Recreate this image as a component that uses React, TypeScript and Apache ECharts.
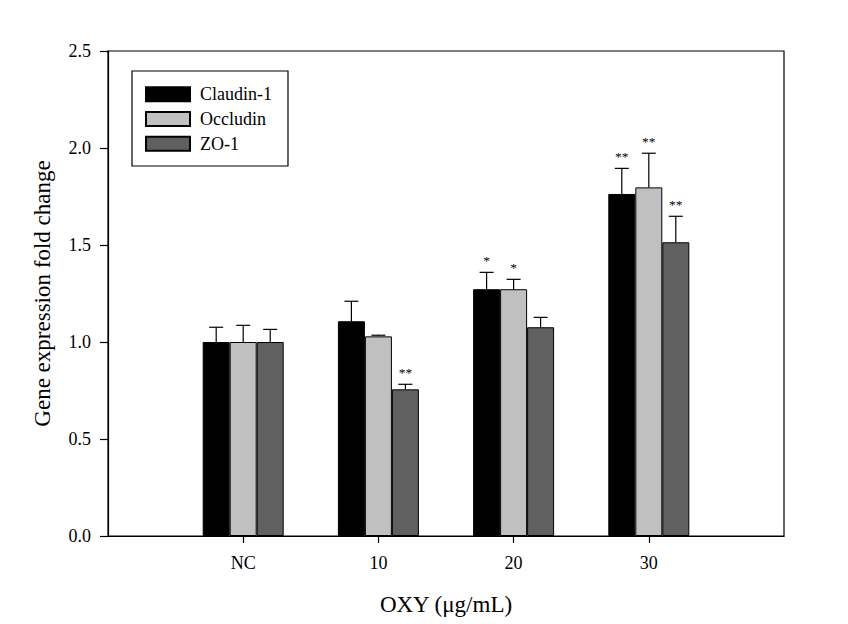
import React, { useEffect, useRef } from "react";
import * as echarts from "echarts";

const categories = ["", "NC", "10", "20", "30", ""];
const seriesNames = ["Claudin-1", "Occludin", "ZO-1"];
const seriesColors = ["#000000", "#c0c0c0", "#606060"];
// values at category indexes 1..4 (NC, 10, 20, 30)
const claudin = [1.0, 1.107, 1.272, 1.763];
const occludin = [1.0, 1.029, 1.272, 1.797];
const zo1 = [1.0, 0.756, 1.076, 1.514];
const claudinErr = [0.076, 0.103, 0.087, 0.132];
const occludinErr = [0.086, 0.006, 0.051, 0.176];
const zo1Err = [0.065, 0.026, 0.051, 0.134];
const claudinSig = ["", "", "*", "**"];
const occludinSig = ["", "", "*", "**"];
const zo1Sig = ["", "**", "", "**"];
const yTicks = [0, 0.5, 1.0, 1.5, 2.0, 2.5];

const FONT = "Liberation Serif";
const BAR_W = 27;

export default function App() {
  const ref = useRef<HTMLDivElement>(null);
  useEffect(() => {
    if (!ref.current) return;
    const chart = echarts.init(ref.current, undefined, { renderer: "svg" });
    const vals = [claudin, occludin, zo1];
    const errs = [claudinErr, occludinErr, zo1Err];
    const sigs = [claudinSig, occludinSig, zo1Sig];

    const barSeries = seriesNames.map((name, s) => ({
      name,
      type: "bar",
      barWidth: BAR_W,
      barGap: "0%",
      itemStyle: { color: seriesColors[s], borderColor: "#000", borderWidth: 1 },
      data: vals[s].map((v, i) => [i + 1, v]),
      z: 2,
    }));

    const errData: any[] = [];
    for (let s = 0; s < 3; s++) {
      vals[s].forEach((v, i) => {
        errData.push([i + 1, v, errs[s][i], s - 1, sigs[s][i]]);
      });
    }

    const errSeries = {
      type: "custom",
      name: "err",
      z: 5,
      data: errData,
      renderItem: (params: any, api: any) => {
        const x = api.value(0);
        const top = api.value(1);
        const err = api.value(2);
        const off = api.value(3);
        const sig = errData[params.dataIndex][4];
        const p = api.coord([x, top]);
        const q = api.coord([x, top + err]);
        const cx = p[0] + off * BAR_W;
        const children: any[] = [
          {
            type: "line",
            shape: { x1: cx, y1: p[1], x2: cx, y2: q[1] },
            style: { stroke: "#000", lineWidth: 1.2 },
          },
          {
            type: "line",
            shape: { x1: cx - 7, y1: q[1], x2: cx + 7, y2: q[1] },
            style: { stroke: "#000", lineWidth: 1.2 },
          },
        ];
        if (sig) {
          children.push({
            type: "text",
            style: {
              text: sig,
              x: cx,
              y: q[1] - 12,
              align: "center",
              verticalAlign: "middle",
              fontSize: 13.5,
              fontFamily: FONT,
              fill: "#000",
            },
          });
        }
        return { type: "group", children };
      },
    };

    chart.setOption({
      animation: false,
      backgroundColor: "#fff",
      textStyle: { fontFamily: FONT },
      grid: {
        left: 108,
        right: 64,
        top: 51,
        bottom: 88,
        show: true,
        borderColor: "#000",
        borderWidth: 1.2,
        backgroundColor: "transparent",
      },
      legend: {
        data: seriesNames,
        orient: "vertical",
        left: 132,
        top: 71,
        icon: "rect",
        itemWidth: 44,
        itemHeight: 14,
        itemGap: 6.7,
        padding: [14.3, 16, 13.3, 13],
        borderColor: "#000",
        borderWidth: 1.2,
        selectedMode: false,
        textStyle: {
          fontFamily: FONT,
          fontSize: 18,
          color: "#000",
          padding: [0, 0, 0, 5],
        },
      },
      xAxis: {
        type: "category",
        data: categories,
        boundaryGap: false,
        name: "OXY (μg/mL)",
        nameLocation: "middle",
        nameGap: 57,
        nameTextStyle: { fontFamily: FONT, fontSize: 23, color: "#000" },
        axisLine: { show: true, lineStyle: { color: "#000", width: 1.2 } },
        axisTick: {
          show: true,
          length: 7,
          interval: (idx: number) => idx > 0 && idx < categories.length - 1,
          lineStyle: { color: "#000", width: 1.2 },
        },
        axisLabel: {
          fontFamily: FONT,
          fontSize: 18,
          color: "#000",
          margin: 18,
          interval: 0,
        },
        splitLine: { show: false },
      },
      yAxis: {
        type: "value",
        min: 0,
        max: 2.5,
        interval: 0.5,
        name: "Gene expression fold change",
        nameLocation: "middle",
        nameGap: 54,
        nameTextStyle: { fontFamily: FONT, fontSize: 23, color: "#000" },
        axisLine: { show: true, lineStyle: { color: "#000", width: 1.2 } },
        axisTick: { show: true, inside: false, length: 8, lineStyle: { color: "#000", width: 1.2 } },
        axisLabel: {
          fontFamily: FONT,
          fontSize: 18,
          color: "#000",
          margin: 17,
          formatter: (v: number) => (yTicks.includes(v) ? v.toFixed(1) : ""),
        },
        splitLine: { show: false },
      },
      series: [...barSeries, errSeries],
    });
    return () => chart.dispose();
  }, []);
  return (
    <div
      ref={ref}
      style={{ position: "absolute", left: 0, top: 0, width: 848, height: 624 }}
    />
  );
}
